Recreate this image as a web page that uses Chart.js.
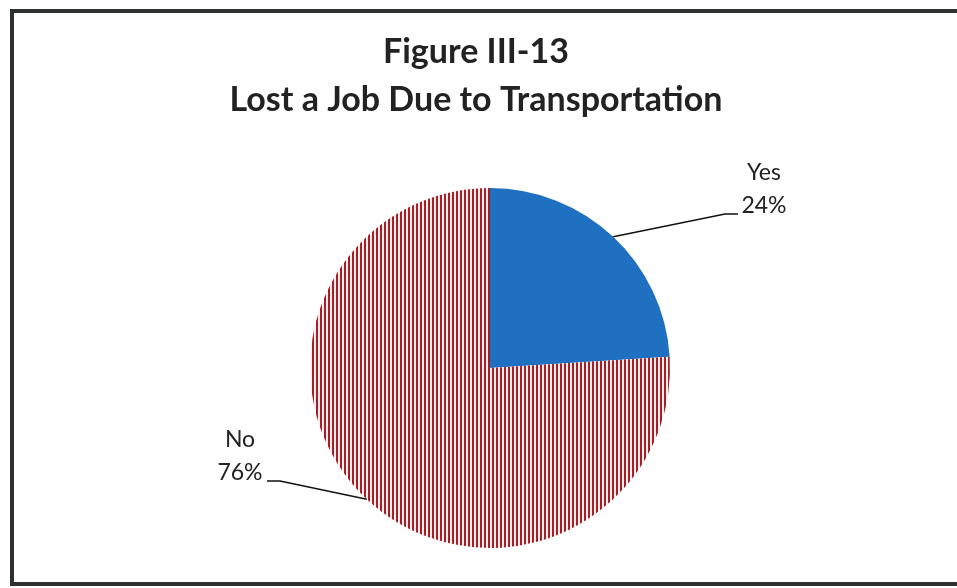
<!DOCTYPE html>
<html>
<head>
<meta charset="utf-8">
<script src="https://cdn.jsdelivr.net/npm/chart.js@4/dist/chart.umd.min.js"></script>
<style>
  html, body { margin: 0; padding: 0; background: #fff; }
  #wrap { width: 957px; height: 588px; position: relative; }
</style>
</head>
<body>
<div id="wrap"><canvas id="chart" width="957" height="588"></canvas></div>
<script>
"use strict";

var categories = ["Yes", "No"];
var shares = [24, 76];
var title_lines = ["Figure III-13", "Lost a Job Due to Transportation"];

var blue = "rgb(31, 112, 193)";

function stripe_pattern() {
  var c = document.createElement("canvas");
  c.width = 4;
  c.height = 4;
  var g = c.getContext("2d");
  g.fillStyle = "rgb(252, 236, 234)";
  g.fillRect(0, 0, 4, 4);
  g.fillStyle = "rgb(162, 32, 42)";
  g.fillRect(0, 0, 2, 4);
  return g.createPattern(c, "repeat");
}

// label placement: text anchor and elbow of leader line
var label_spots = {
  Yes: { tx: 764, ty: 173, elbow: [[738, 214], [725, 214]] },
  No: { tx: 240, ty: 440, elbow: [[267, 481], [280, 481]] }
};

var frame_and_labels = {
  id: "frame_and_labels",
  afterDraw: function(chart) {
    var ctx = chart.ctx;
    ctx.save();

    // frame
    ctx.strokeStyle = "rgb(45, 50, 48)";
    ctx.lineWidth = 4;
    ctx.beginPath();
    ctx.moveTo(960, 11);
    ctx.lineTo(12, 11);
    ctx.lineTo(12, 584);
    ctx.lineTo(960, 584);
    ctx.stroke();

    // title
    ctx.fillStyle = "#222";
    ctx.textAlign = "center";
    ctx.textBaseline = "middle";
    ctx.font = "bold 34px Lato";
    ctx.fillText(title_lines[0], 476, 52);
    ctx.fillText(title_lines[1], 476, 100);

    // data labels with leader lines
    var meta = chart.getDatasetMeta(0);
    ctx.font = "23px Lato";
    ctx.lineWidth = 1.5;
    ctx.strokeStyle = "#111";
    for (var i = 0; i < categories.length; i++) {
      var arc = meta.data[i];
      var mid = (arc.startAngle + arc.endAngle) / 2;
      var ax = arc.x + Math.cos(mid) * arc.outerRadius;
      var ay = arc.y + Math.sin(mid) * arc.outerRadius;
      var spot = label_spots[categories[i]];
      ctx.beginPath();
      ctx.moveTo(ax, ay);
      ctx.lineTo(spot.elbow[1][0], spot.elbow[1][1]);
      ctx.lineTo(spot.elbow[0][0], spot.elbow[0][1]);
      ctx.stroke();
      ctx.fillStyle = "#222";
      ctx.textAlign = "center";
      ctx.fillText(categories[i], spot.tx, spot.ty);
      ctx.fillText(shares[i] + "%", spot.tx, spot.ty + 33);
    }
    ctx.restore();
  }
};

var chart = new Chart(document.getElementById("chart"), {
  type: "pie",
  data: {
    labels: categories,
    datasets: [{
      data: shares,
      backgroundColor: [blue, stripe_pattern()],
      borderWidth: 0
    }]
  },
  options: {
    responsive: false,
    animation: false,
    layout: { padding: { left: 23, right: 0, top: 188, bottom: 40 } },
    plugins: {
      legend: { display: false },
      title: { display: false },
      tooltip: { enabled: false }
    }
  },
  plugins: [frame_and_labels]
});
</script>
</body>
</html>
